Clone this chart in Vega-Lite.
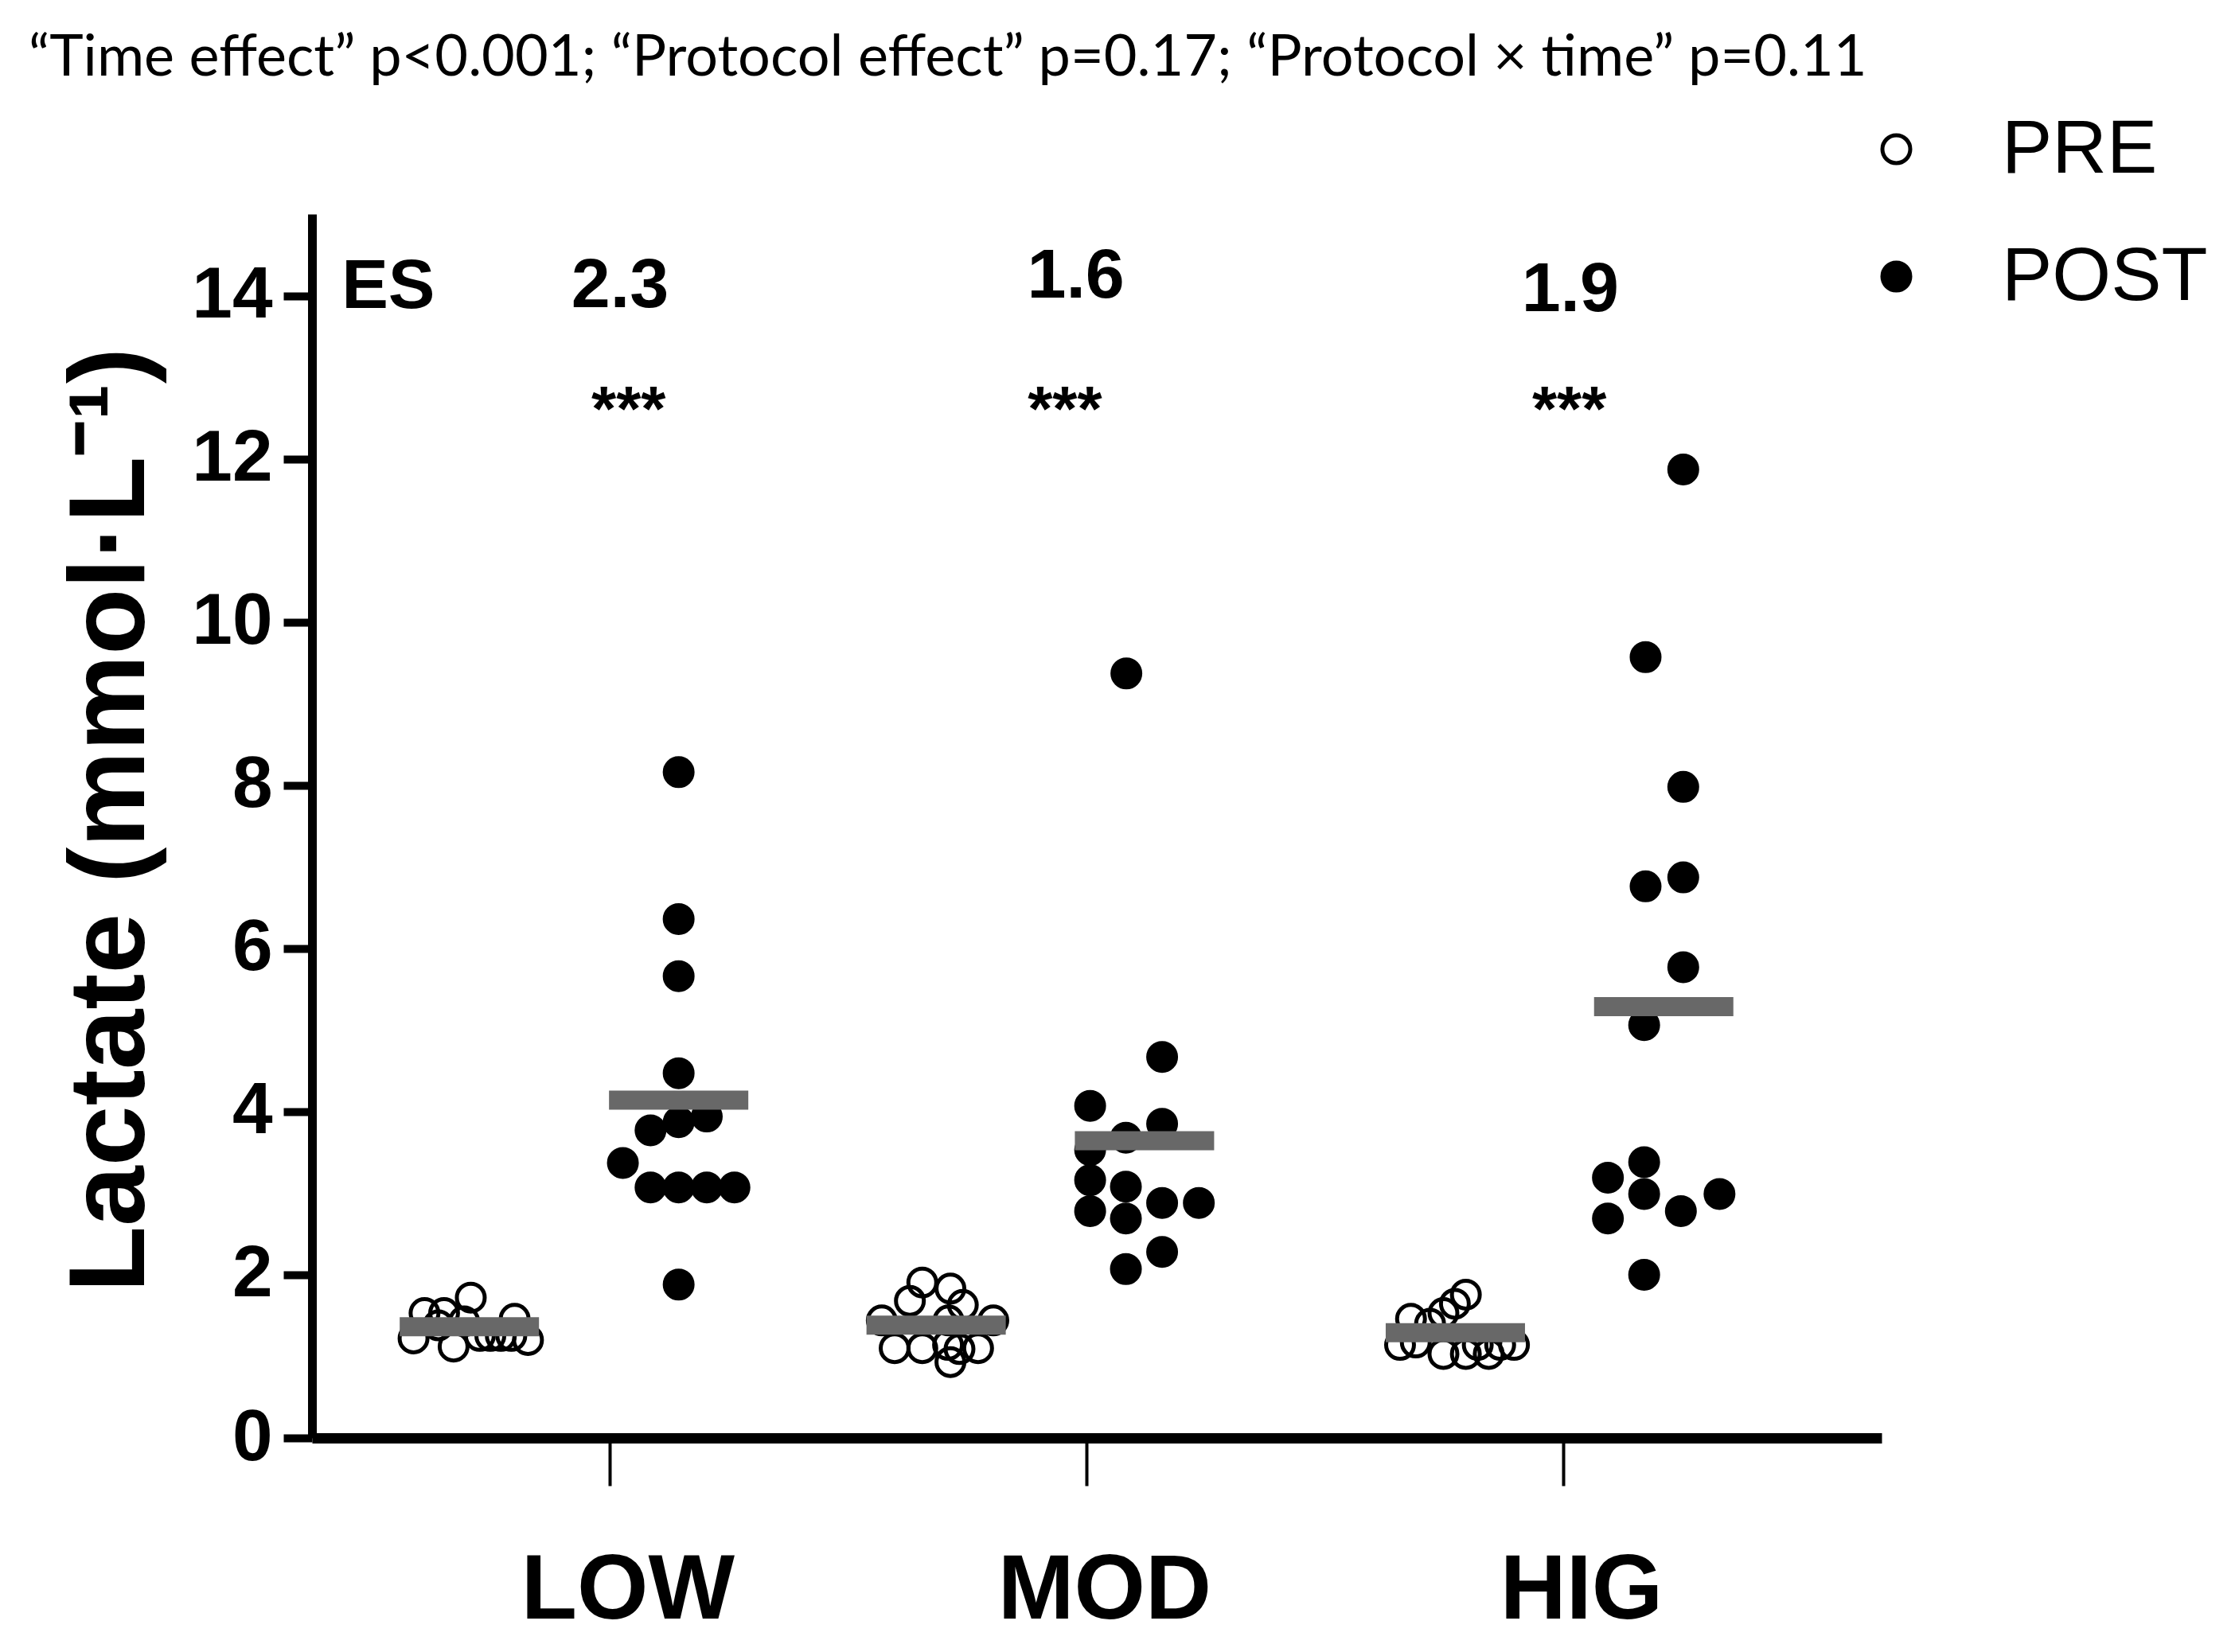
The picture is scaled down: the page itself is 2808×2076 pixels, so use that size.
{
  "$schema": "https://vega.github.io/schema/vega-lite/v6.json",
  "autosize": {"type": "none"},
  "width": 1972,
  "height": 1538,
  "padding": {"left": 392, "top": 269, "right": 444, "bottom": 269},
  "background": "white",
  "title": {
    "text": "“Time effect” p<0.001; “Protocol effect” p=0.17; “Protocol × time” p=0.11",
    "anchor": "start",
    "frame": "group",
    "dx": -356,
    "offset": 30,
    "font": "Lato",
    "fontSize": 72,
    "fontWeight": "normal",
    "color": "black"
  },
  "config": {
    "view": {"stroke": null},
    "axis": {"grid": false, "domainColor": "black", "tickColor": "black", "labelColor": "black", "titleColor": "black"}
  },
  "datasets": {
    "points": [
      {"group": "LOW", "time": "PRE", "pos": 0.708, "lactate": 1.72},
      {"group": "LOW", "time": "PRE", "pos": 0.611, "lactate": 1.53},
      {"group": "LOW", "time": "PRE", "pos": 0.652, "lactate": 1.53},
      {"group": "LOW", "time": "PRE", "pos": 0.800, "lactate": 1.46},
      {"group": "LOW", "time": "PRE", "pos": 0.588, "lactate": 1.22},
      {"group": "LOW", "time": "PRE", "pos": 0.672, "lactate": 1.12},
      {"group": "LOW", "time": "PRE", "pos": 0.828, "lactate": 1.20},
      {"group": "LOW", "time": "PRE", "pos": 0.727, "lactate": 1.25},
      {"group": "LOW", "time": "PRE", "pos": 0.749, "lactate": 1.25},
      {"group": "LOW", "time": "PRE", "pos": 0.771, "lactate": 1.25},
      {"group": "LOW", "time": "PRE", "pos": 0.793, "lactate": 1.25},
      {"group": "LOW", "time": "PRE", "pos": 0.694, "lactate": 1.43},
      {"group": "LOW", "time": "PRE", "pos": 0.640, "lactate": 1.38},
      {"group": "LOW", "time": "POST", "pos": 1.144, "lactate": 8.16},
      {"group": "LOW", "time": "POST", "pos": 1.144, "lactate": 6.36},
      {"group": "LOW", "time": "POST", "pos": 1.144, "lactate": 5.66},
      {"group": "LOW", "time": "POST", "pos": 1.144, "lactate": 4.47},
      {"group": "LOW", "time": "POST", "pos": 1.203, "lactate": 3.94},
      {"group": "LOW", "time": "POST", "pos": 1.144, "lactate": 3.87},
      {"group": "LOW", "time": "POST", "pos": 1.085, "lactate": 3.77},
      {"group": "LOW", "time": "POST", "pos": 1.027, "lactate": 3.37},
      {"group": "LOW", "time": "POST", "pos": 1.085, "lactate": 3.07},
      {"group": "LOW", "time": "POST", "pos": 1.144, "lactate": 3.07},
      {"group": "LOW", "time": "POST", "pos": 1.203, "lactate": 3.07},
      {"group": "LOW", "time": "POST", "pos": 1.261, "lactate": 3.07},
      {"group": "LOW", "time": "POST", "pos": 1.144, "lactate": 1.88},
      {"group": "MOD", "time": "PRE", "pos": 1.655, "lactate": 1.905},
      {"group": "MOD", "time": "PRE", "pos": 1.714, "lactate": 1.83},
      {"group": "MOD", "time": "PRE", "pos": 1.629, "lactate": 1.68},
      {"group": "MOD", "time": "PRE", "pos": 1.740, "lactate": 1.63},
      {"group": "MOD", "time": "PRE", "pos": 1.570, "lactate": 1.44},
      {"group": "MOD", "time": "PRE", "pos": 1.804, "lactate": 1.44},
      {"group": "MOD", "time": "PRE", "pos": 1.710, "lactate": 1.44},
      {"group": "MOD", "time": "PRE", "pos": 1.597, "lactate": 1.10},
      {"group": "MOD", "time": "PRE", "pos": 1.655, "lactate": 1.10},
      {"group": "MOD", "time": "PRE", "pos": 1.772, "lactate": 1.10},
      {"group": "MOD", "time": "PRE", "pos": 1.709, "lactate": 1.14},
      {"group": "MOD", "time": "PRE", "pos": 1.733, "lactate": 1.09},
      {"group": "MOD", "time": "PRE", "pos": 1.714, "lactate": 0.93},
      {"group": "MOD", "time": "POST", "pos": 2.083, "lactate": 9.37},
      {"group": "MOD", "time": "POST", "pos": 2.158, "lactate": 4.67},
      {"group": "MOD", "time": "POST", "pos": 2.007, "lactate": 4.07},
      {"group": "MOD", "time": "POST", "pos": 2.158, "lactate": 3.85},
      {"group": "MOD", "time": "POST", "pos": 2.082, "lactate": 3.68},
      {"group": "MOD", "time": "POST", "pos": 2.007, "lactate": 3.53},
      {"group": "MOD", "time": "POST", "pos": 2.007, "lactate": 3.16},
      {"group": "MOD", "time": "POST", "pos": 2.082, "lactate": 3.08},
      {"group": "MOD", "time": "POST", "pos": 2.158, "lactate": 2.88},
      {"group": "MOD", "time": "POST", "pos": 2.235, "lactate": 2.88},
      {"group": "MOD", "time": "POST", "pos": 2.007, "lactate": 2.78},
      {"group": "MOD", "time": "POST", "pos": 2.082, "lactate": 2.69},
      {"group": "MOD", "time": "POST", "pos": 2.158, "lactate": 2.28},
      {"group": "MOD", "time": "POST", "pos": 2.082, "lactate": 2.07},
      {"group": "HIG", "time": "PRE", "pos": 2.795, "lactate": 1.756},
      {"group": "HIG", "time": "PRE", "pos": 2.772, "lactate": 1.644},
      {"group": "HIG", "time": "PRE", "pos": 2.748, "lactate": 1.53},
      {"group": "HIG", "time": "PRE", "pos": 2.680, "lactate": 1.46},
      {"group": "HIG", "time": "PRE", "pos": 2.720, "lactate": 1.40},
      {"group": "HIG", "time": "PRE", "pos": 2.657, "lactate": 1.14},
      {"group": "HIG", "time": "PRE", "pos": 2.820, "lactate": 1.14},
      {"group": "HIG", "time": "PRE", "pos": 2.867, "lactate": 1.14},
      {"group": "HIG", "time": "PRE", "pos": 2.896, "lactate": 1.14},
      {"group": "HIG", "time": "PRE", "pos": 2.748, "lactate": 1.03},
      {"group": "HIG", "time": "PRE", "pos": 2.795, "lactate": 1.03},
      {"group": "HIG", "time": "PRE", "pos": 2.843, "lactate": 1.03},
      {"group": "HIG", "time": "PRE", "pos": 2.690, "lactate": 1.17},
      {"group": "HIG", "time": "POST", "pos": 3.251, "lactate": 11.87},
      {"group": "HIG", "time": "POST", "pos": 3.172, "lactate": 9.57},
      {"group": "HIG", "time": "POST", "pos": 3.251, "lactate": 7.98},
      {"group": "HIG", "time": "POST", "pos": 3.251, "lactate": 6.87},
      {"group": "HIG", "time": "POST", "pos": 3.172, "lactate": 6.76},
      {"group": "HIG", "time": "POST", "pos": 3.251, "lactate": 5.77},
      {"group": "HIG", "time": "POST", "pos": 3.169, "lactate": 5.06},
      {"group": "HIG", "time": "POST", "pos": 3.169, "lactate": 3.38},
      {"group": "HIG", "time": "POST", "pos": 3.093, "lactate": 3.19},
      {"group": "HIG", "time": "POST", "pos": 3.169, "lactate": 2.99},
      {"group": "HIG", "time": "POST", "pos": 3.327, "lactate": 2.99},
      {"group": "HIG", "time": "POST", "pos": 3.246, "lactate": 2.78},
      {"group": "HIG", "time": "POST", "pos": 3.093, "lactate": 2.69},
      {"group": "HIG", "time": "POST", "pos": 3.169, "lactate": 2.00}
    ],
    "means": [
      {"group": "LOW", "time": "PRE", "pos": 0.705, "mean": 1.363},
      {"group": "LOW", "time": "POST", "pos": 1.144, "mean": 4.139},
      {"group": "MOD", "time": "PRE", "pos": 1.684, "mean": 1.382},
      {"group": "MOD", "time": "POST", "pos": 2.121, "mean": 3.642},
      {"group": "HIG", "time": "PRE", "pos": 2.773, "mean": 1.289},
      {"group": "HIG", "time": "POST", "pos": 3.21, "mean": 5.285}
    ],
    "effects": [
      {"label": "ES", "pos": 0.535, "y": 13.85},
      {"label": "2.3", "pos": 1.021, "y": 13.86},
      {"label": "1.6", "pos": 1.977, "y": 13.98},
      {"label": "1.9", "pos": 3.014, "y": 13.81}
    ],
    "stars": [
      {"label": "***", "pos": 1.039, "y": 12.35},
      {"label": "***", "pos": 1.954, "y": 12.35},
      {"label": "***", "pos": 3.012, "y": 12.35}
    ]
  },
  "layer": [
    {
      "data": {"name": "points"},
      "mark": {"type": "point", "shape": "circle", "filled": true, "size": 1225, "stroke": "black", "strokeWidth": 5, "opacity": 1},
      "encoding": {
        "x": {
          "field": "pos",
          "type": "quantitative",
          "scale": {"domain": [0.375, 3.667], "nice": false, "zero": false},
          "axis": {
            "values": [1, 2, 3],
            "labelExpr": "datum.value == 1 ? 'LOW' : datum.value == 2 ? 'MOD' : 'HIG'",
            "title": null,
            "domainWidth": 13,
            "tickSize": 60,
            "tickWidth": 4,
            "labelFont": "Liberation Sans",
            "labelFontWeight": "bold",
            "labelFontSize": 115,
            "labelBaseline": "alphabetic",
            "labelPadding": 166,
            "labelOffset": 22,
            "labelLimit": 2000
          }
        },
        "y": {
          "field": "lactate",
          "type": "quantitative",
          "scale": {"domain": [0, 15], "nice": false},
          "axis": {
            "values": [0, 2, 4, 6, 8, 10, 12, 14],
            "format": "d",
            "title": "Lactate (mmol·L⁻¹)",
            "titleFont": "Liberation Sans",
            "titleFontWeight": "bold",
            "titleFontSize": 136,
            "titleAngle": -90,
            "titleAlign": "center",
            "titleBaseline": "alphabetic",
            "titleX": -212,
            "titleY": 761,
            "titleLimit": 3000,
            "domainWidth": 11,
            "tickSize": 36,
            "tickWidth": 10,
            "labelFont": "Liberation Sans",
            "labelFontWeight": "bold",
            "labelFontSize": 91,
            "labelPadding": 14
          }
        },
        "fill": {
          "field": "time",
          "type": "nominal",
          "scale": {"domain": ["PRE", "POST"], "range": ["transparent", "black"]},
          "legend": {
            "title": null,
            "orient": "none",
            "legendX": 1943,
            "legendY": -129,
            "padding": 0,
            "symbolType": "circle",
            "symbolSize": 1225,
            "symbolStrokeColor": "black",
            "symbolStrokeWidth": 5,
            "labelFont": "Liberation Sans",
            "labelFontSize": 95,
            "labelColor": "black",
            "labelOffset": 85,
            "labelLimit": 2000,
            "rowPadding": 64
          }
        }
      }
    },
    {
      "data": {"name": "means"},
      "mark": {"type": "tick", "orient": "horizontal", "size": 175, "thickness": 24, "color": "#686868", "opacity": 1},
      "encoding": {
        "x": {"field": "pos", "type": "quantitative"},
        "y": {"field": "mean", "type": "quantitative"}
      }
    },
    {
      "data": {"name": "effects"},
      "mark": {"type": "text", "font": "Liberation Sans", "fontWeight": "bold", "fontSize": 88, "align": "center", "baseline": "alphabetic", "color": "black"},
      "encoding": {
        "x": {"field": "pos", "type": "quantitative"},
        "y": {"field": "y", "type": "quantitative"},
        "text": {"field": "label"}
      }
    },
    {
      "data": {"name": "stars"},
      "mark": {"type": "text", "font": "Liberation Sans", "fontWeight": "bold", "fontSize": 80, "align": "center", "baseline": "alphabetic", "color": "black"},
      "encoding": {
        "x": {"field": "pos", "type": "quantitative"},
        "y": {"field": "y", "type": "quantitative"},
        "text": {"field": "label"}
      }
    }
  ]
}
